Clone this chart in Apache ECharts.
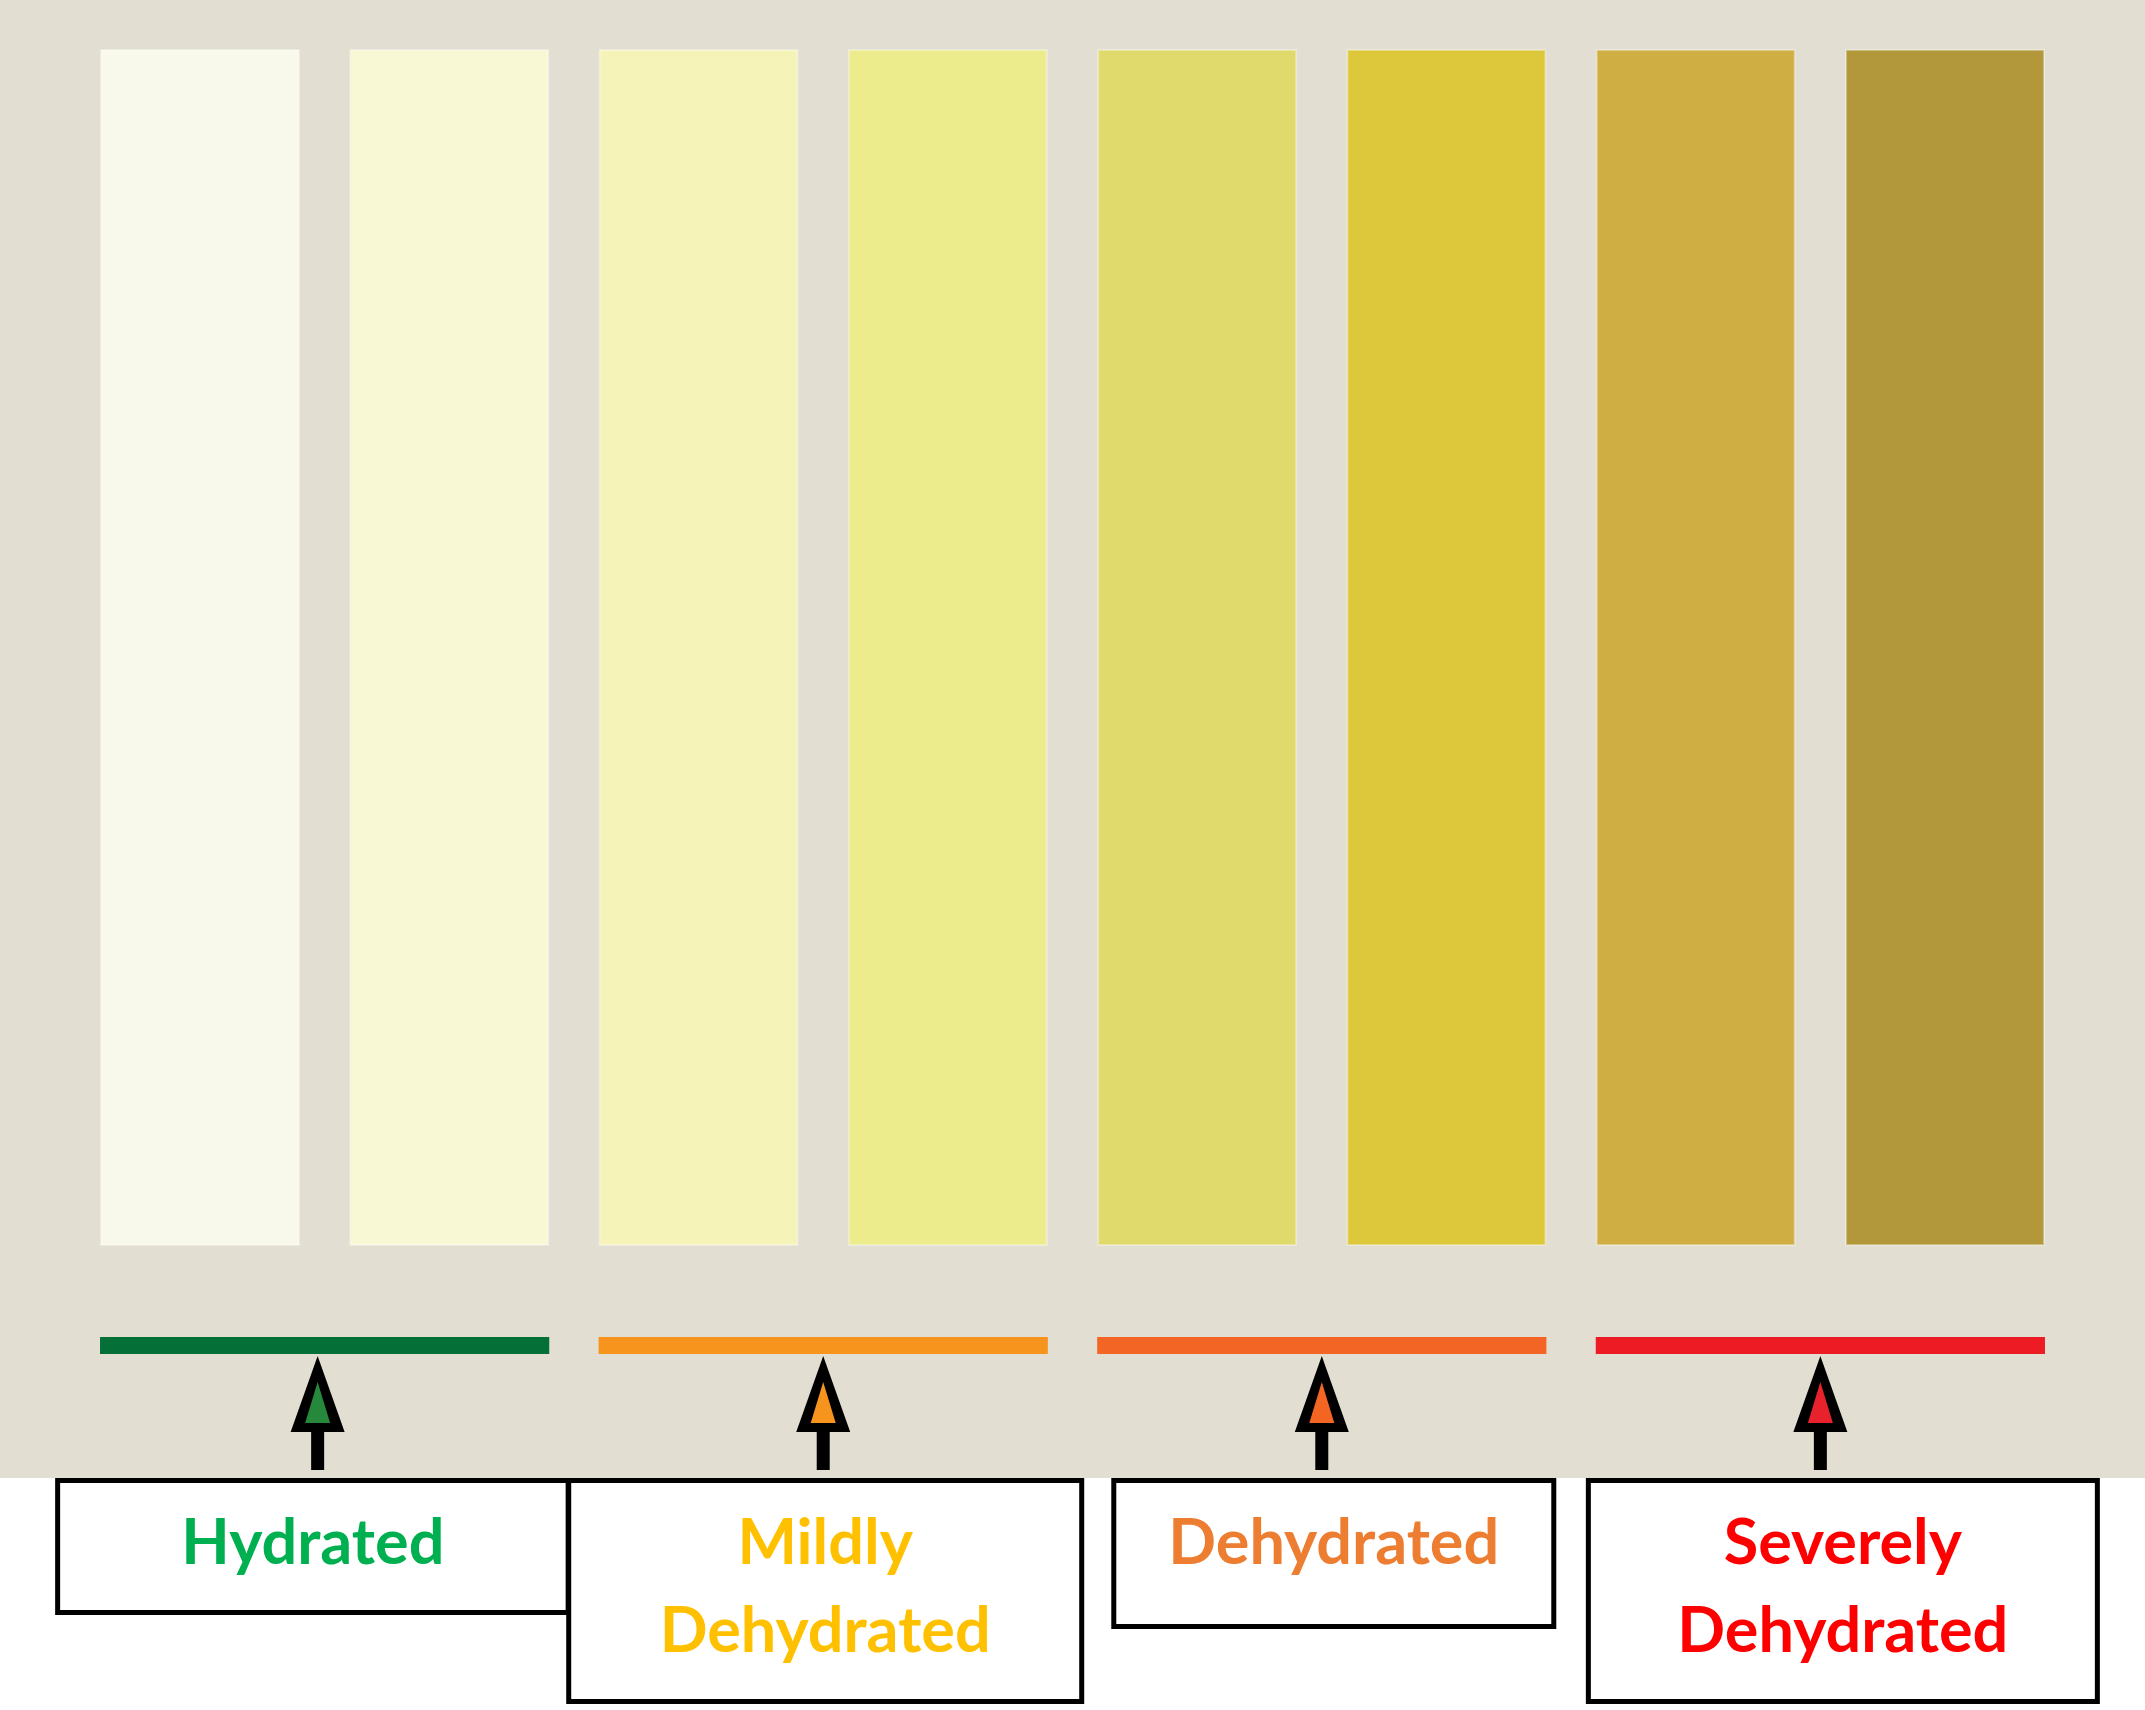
<!DOCTYPE html>
<html>
<head>
<meta charset="utf-8">
<script src="https://cdn.jsdelivr.net/npm/echarts@6/dist/echarts.min.js"></script>
<style>
html,body{margin:0;padding:0;background:#ffffff;}
#chart{width:2145px;height:1710px;}
</style>
</head>
<body>
<div id="chart"></div>
<script>
// ---- data ----
const categories = ['1', '2', '3', '4', '5', '6', '7', '8'];
const stripValues = [100, 100, 100, 100, 100, 100, 100, 100];
const stripColors = ['#F9F9EB', '#F8F8D4', '#F5F3B7', '#EDEC8C', '#E0DA6D', '#DCC83A', '#CFAE43', '#B3983B'];
const levelNames = ['Hydrated', 'Mildly\nDehydrated', 'Dehydrated', 'Severely\nDehydrated'];
const levelStart = [0, 2, 4, 6];
const levelEnd = [1, 3, 5, 7];
const levelBarColors = ['#046F37', '#F7941E', '#F26524', '#ED1C24'];
const levelArrowFill = ['#26883A', '#F7941D', '#F26522', '#E8222C'];
const levelTextColors = ['#00B050', '#FFC000', '#ED7D31', '#FF0000'];

// ---- layout (pixels, relative to axis baseline / segment centre) ----
const layout = {
  segTop: 91, segH: 17,
  arrowTip: 110, innerTip: 136, innerBase: 177, headBase: 186, shaftEnd: 224,
  headHalf: 27, innerHalf: 12.5, shaftHalf: 6.5,
  boxTop: 232, border: 5, lineGap: 88, firstLine: 61.5,
  arrowDx: [-7, 0, 0, 0],
  boxLeft: [-269.5, -257, -210.5, -234.5],
  boxRight: [246, 261, 234.5, 279.5],
  boxH: [137, 226, 151, 226]
};

const levelData = levelNames.map((n, i) => [levelStart[i], levelEnd[i], i]);

const chart = echarts.init(document.getElementById('chart'), null, {renderer: 'svg'});

function renderLevel(params, api) {
  const i = api.value(2);
  const p0 = api.coord([api.value(0), 0]);
  const p1 = api.coord([api.value(1), 0]);
  const band = api.size([1, 0])[0];
  const half = band * 0.802 / 2;
  const left = p0[0] - half, right = p1[0] + half;
  const cx = (left + right) / 2;
  const base = p0[1];
  const ax = cx + layout.arrowDx[i];
  const L = layout;
  const children = [];
  children.push({type: 'rect', shape: {x: left, y: base + L.segTop, width: right - left, height: L.segH},
    style: {fill: levelBarColors[i]}});
  children.push({type: 'rect', shape: {x: ax - L.shaftHalf, y: base + L.headBase - 2, width: L.shaftHalf * 2, height: L.shaftEnd - L.headBase + 2},
    style: {fill: '#000000'}});
  children.push({type: 'polygon', shape: {points: [[ax, base + L.arrowTip], [ax - L.headHalf, base + L.headBase], [ax + L.headHalf, base + L.headBase]]},
    style: {fill: '#000000'}});
  children.push({type: 'polygon', shape: {points: [[ax, base + L.innerTip], [ax - L.innerHalf, base + L.innerBase], [ax + L.innerHalf, base + L.innerBase]]},
    style: {fill: levelArrowFill[i]}});
  const bx = cx + L.boxLeft[i], bw = L.boxRight[i] - L.boxLeft[i];
  const by = base + L.boxTop, bh = L.boxH[i];
  const b = L.border;
  children.push({type: 'rect', shape: {x: bx + b / 2, y: by + b / 2, width: bw - b, height: bh - b},
    style: {fill: '#ffffff', stroke: '#000000', lineWidth: b}});
  const tcx = bx + bw / 2;
  String(levelNames[i]).split('\n').forEach((line, k) => {
    children.push({type: 'text', style: {
      text: line, x: tcx, y: by + L.firstLine + k * L.lineGap,
      align: 'center', verticalAlign: 'middle',
      fill: levelTextColors[i], font: 'bold 63px Lato, "Liberation Sans", sans-serif'
    }});
  });
  return {type: 'group', children: children};
}

const option = {
  backgroundColor: '#ffffff',
  animation: false,
  graphic: [{
    type: 'rect', left: 0, top: 0, z: -10,
    shape: {width: 2145, height: 1478},
    style: {fill: '#E2DED2'}
  }],
  grid: {left: 75.35, right: 75.35, top: 49, bottom: 464},
  xAxis: {type: 'category', data: categories, show: false},
  yAxis: {type: 'value', min: 0, max: 100, show: false, splitLine: {show: false}},
  series: [
    {
      type: 'bar',
      data: stripValues.map((v, i) => ({value: v, itemStyle: {color: stripColors[i]}})),
      barCategoryGap: '19.8%',
      itemStyle: {borderColor: 'rgba(255,255,255,0.35)', borderWidth: 2},
      silent: true
    },
    {
      type: 'custom',
      data: levelData,
      renderItem: renderLevel,
      clip: false,
      silent: true,
      z: 5
    }
  ]
};
chart.setOption(option);
</script>
</body>
</html>
